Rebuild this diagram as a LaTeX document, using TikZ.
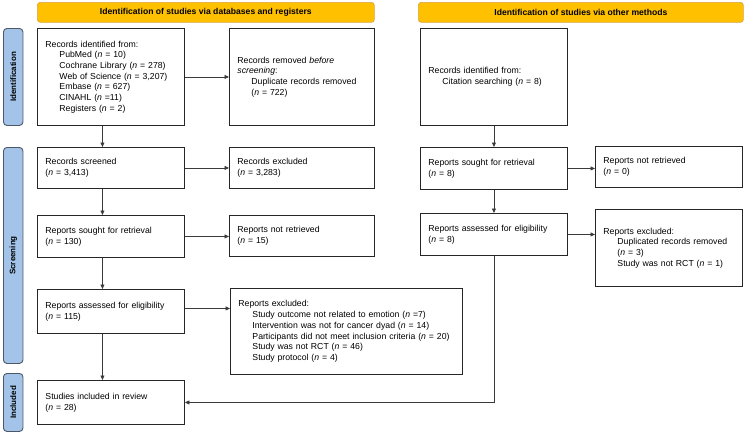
\documentclass[tikz,border=0pt]{standalone}
\usepackage{fontspec}
\setmainfont{Liberation Sans}
\usetikzlibrary{arrows.meta}
\definecolor{hdrfill}{HTML}{FFC000}
\definecolor{hdrline}{HTML}{D9A441}
\definecolor{barfill}{HTML}{A3C4E8}
\definecolor{barline}{HTML}{4D5866}
\definecolor{conn}{HTML}{3A3A3A}
\tikzset{
  box/.style={draw=black!85, line width=0.9pt, inner xsep=8pt, inner ysep=0pt, align=left,
    font=\fontsize{8.7}{10.7}\selectfont, anchor=north west},
  hdr/.style={draw=hdrline, fill=hdrfill, rounded corners=3pt, line width=0.7pt,
    font=\fontsize{8.6}{10}\selectfont\bfseries, anchor=north west, inner sep=0pt},
  sidebar/.style={draw=barline, fill=barfill, rounded corners=3.5pt, line width=0.9pt,
    anchor=north west, inner sep=0pt},
  sidelabel/.style={font=\fontsize{8}{9}\selectfont\bfseries, rotate=90},
  arr/.style={draw=conn, line width=0.8pt, -{Triangle[length=4.5pt,width=4pt]}}
}
\newcommand{\ind}{\hspace*{14pt}}
\newcommand{\nn}{\textit{n}}
\begin{document}
\begin{tikzpicture}[x=1pt,y=-1pt]
\useasboundingbox (0,0) rectangle (745,434);
% headers
\node[hdr, minimum width=337pt, minimum height=20pt] (h1) at (37,2) {Identification of studies via databases and registers};
\node[hdr, minimum width=325pt, minimum height=20pt] (h2) at (418,2) {Identification of studies via other methods};
% side bars
\node[sidebar, minimum width=19.5pt, minimum height=97pt] (s1) at (3,28) {};
\node[sidelabel] at (s1.center) {Identification};
\node[sidebar, minimum width=19.5pt, minimum height=216pt] (s2) at (3,147) {};
\node[sidelabel] at (s2.center) {Screening};
\node[sidebar, minimum width=19.5pt, minimum height=58pt] (s3) at (3,373) {};
\node[sidelabel] at (s3.center) {Included};
% left column
\node[box, minimum width=147pt, minimum height=97pt, text width=131pt] (id1) at (37,28) {Records identified from:\\
\ind PubMed (\nn{} = 10)\\
\ind Cochrane Library (\nn{} = 278)\\
\ind Web of Science (\nn{} = 3,207)\\
\ind Embase (\nn{} = 627)\\
\ind CINAHL (\nn{} =11)\\
\ind Registers (\nn{} = 2)};
\node[box, minimum width=145pt, minimum height=97pt, text width=129pt] (rem) at (229,28) {Records removed \textit{before}\\
\textit{screening}:\\
\ind Duplicate records removed\\
\ind (\nn{} = 722)};
\node[box, minimum width=147pt, minimum height=41pt, text width=131pt] (scr) at (37,147) {Records screened\\(\nn{} = 3,413)};
\node[box, minimum width=145pt, minimum height=41pt, text width=129pt] (exc) at (229,147) {Records excluded\\(\nn{} = 3,283)};
\node[box, minimum width=147pt, minimum height=42pt, text width=131pt] (sgt) at (37,215) {Reports sought for retrieval\\(\nn{} = 130)};
\node[box, minimum width=145pt, minimum height=41pt, text width=129pt] (nrt) at (229,215) {Reports not retrieved\\(\nn{} = 15)};
\node[box, minimum width=147pt, minimum height=44pt, text width=131pt] (asd) at (37,289) {Reports assessed for eligibility\\(\nn{} = 115)};
\node[box, minimum width=232pt, minimum height=86pt, text width=216pt] (rex) at (230,288) {Reports excluded:\\
\ind Study outcome not related to emotion (\nn{} =7)\\
\ind Intervention was not for cancer dyad (\nn{} = 14)\\
\ind Participants did not meet inclusion criteria (\nn{} = 20)\\
\ind Study was not RCT (\nn{} = 46)\\
\ind Study protocol (\nn{} = 4)};
\node[box, minimum width=147pt, minimum height=44pt, text width=131pt] (inc) at (37,380) {Studies included in review\\(\nn{} = 28)};
% right column
\node[box, minimum width=147pt, minimum height=97pt, text width=131pt] (oid) at (420,28) {Records identified from:\\
\ind Citation searching (\nn{} = 8)};
\node[box, minimum width=147pt, minimum height=42pt, text width=131pt] (osg) at (420,147) {Reports sought for retrieval\\(\nn{} = 8)};
\node[box, minimum width=147pt, minimum height=41pt, text width=131pt] (onr) at (595,146) {Reports not retrieved\\(\nn{} = 0)};
\node[box, minimum width=147pt, minimum height=42pt, text width=131pt] (oas) at (420,213) {Reports assessed for eligibility\\(\nn{} = 8)};
\node[box, minimum width=147pt, minimum height=77pt, text width=131pt] (oex) at (595,209) {Reports excluded:\\
\ind Duplicated records removed\\
\ind (\nn{} = 3)\\
\ind Study was not RCT (\nn{} = 1)};
% connectors left
\draw[arr] (id1.east) -- (id1.east -| rem.west);
\draw[arr] ([xshift=-8.5pt]id1.south) -- ([xshift=-8.5pt]scr.north);
\draw[arr] (scr.east) -- (scr.east -| exc.west);
\draw[arr] ([xshift=-8.5pt]scr.south) -- ([xshift=-8.5pt]sgt.north);
\draw[arr] (sgt.east) -- (sgt.east -| nrt.west);
\draw[arr] ([xshift=-8.5pt]sgt.south) -- ([xshift=-8.5pt]asd.north);
\draw[arr] ([yshift=3pt]asd.east) -- ([yshift=3pt]asd.east -| rex.west);
\draw[arr] ([xshift=-8.5pt]asd.south) -- ([xshift=-8.5pt]inc.north);
% connectors right
\draw[arr] (oid.south) -- (osg.north);
\draw[arr] (osg.east) -- (osg.east -| onr.west);
\draw[arr] (osg.south) -- (oas.north);
\draw[arr] (oas.east) -- (oas.east -| oex.west);
\draw[arr] (oas.south) |- (inc.east);
\end{tikzpicture}
\end{document}
